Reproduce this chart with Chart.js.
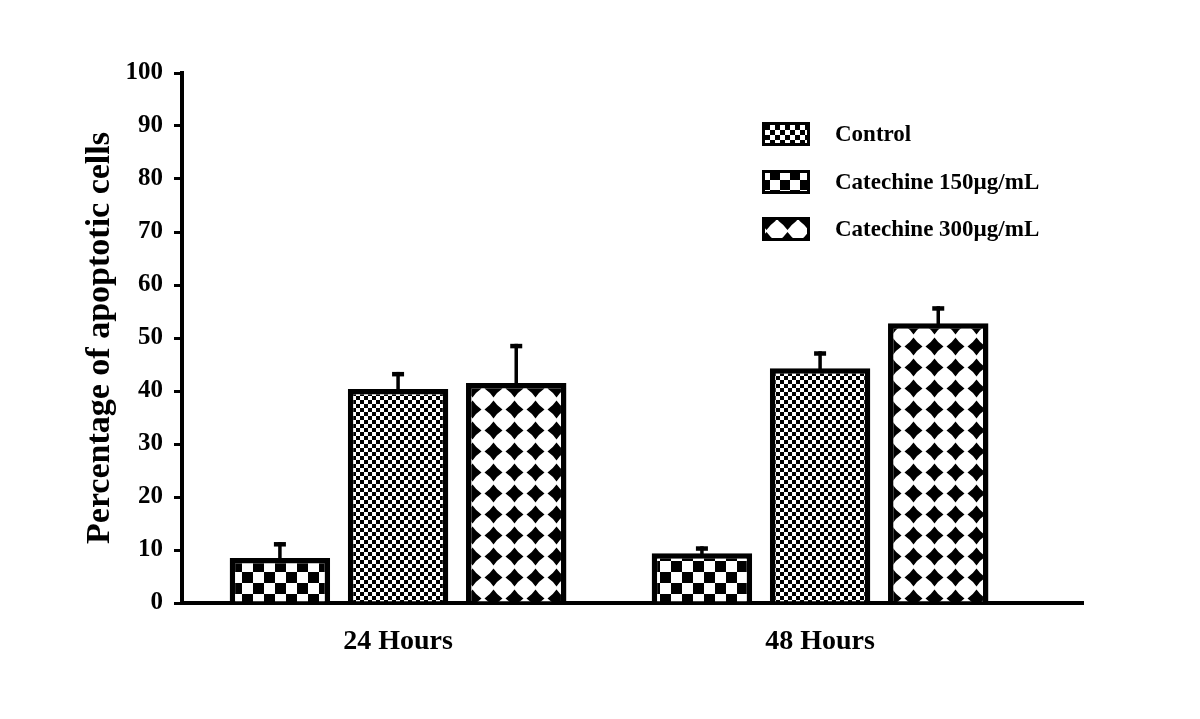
<!DOCTYPE html>
<html>
<head>
<meta charset="utf-8">
<script src="https://cdn.jsdelivr.net/npm/chart.js@4.4.1/dist/chart.umd.min.js"></script>
<style>
html,body{margin:0;padding:0;background:#fff;}
#wrap{width:1200px;height:719px;}
</style>
</head>
<body>
<div id="wrap"><canvas id="c" width="1200" height="719"></canvas></div>
<script>
// ---- data ----
const categories = ['24 Hours', '48 Hours'];
const seriesNames = ['Control', 'Catechine 150µg/mL', 'Catechine 300µg/mL'];
const controlMeans = [8.5, 9.4];
const catechine150Means = [40.4, 44.3];
const catechine300Means = [41.5, 52.8];
const controlErrors = [3.0, 1.3];
const catechine150Errors = [3.2, 3.2];
const catechine300Errors = [7.4, 3.2];
const yAxisTicks = [0, 10, 20, 30, 40, 50, 60, 70, 80, 90, 100];
const yAxisTitle = 'Percentage of apoptotic cells';

// ---- patterns ----
const canvas = document.getElementById('c');
const ctx = canvas.getContext('2d');

function checkerPattern(cell) {
  const t = document.createElement('canvas');
  t.width = t.height = cell * 2;
  const g = t.getContext('2d');
  g.fillStyle = '#fff'; g.fillRect(0, 0, cell * 2, cell * 2);
  g.fillStyle = '#000';
  g.fillRect(0, 0, cell, cell);
  g.fillRect(cell, cell, cell, cell);
  return ctx.createPattern(t, 'repeat');
}
function diamondPattern(size, tip, ctrl) {
  const t = document.createElement('canvas');
  t.width = t.height = size;
  const g = t.getContext('2d');
  g.fillStyle = '#fff'; g.fillRect(0, 0, size, size);
  const c = size / 2;
  g.fillStyle = '#000';
  g.beginPath();
  g.moveTo(c, c - tip);
  g.quadraticCurveTo(c + ctrl, c - ctrl, c + tip, c);
  g.quadraticCurveTo(c + ctrl, c + ctrl, c, c + tip);
  g.quadraticCurveTo(c - ctrl, c + ctrl, c - tip, c);
  g.quadraticCurveTo(c - ctrl, c - ctrl, c, c - tip);
  g.closePath();
  g.fill();
  return ctx.createPattern(t, 'repeat');
}
const barPatterns = [checkerPattern(11), checkerPattern(4), diamondPattern(21, 9, 3.6)];
const legendPatterns = [checkerPattern(5), checkerPattern(10), diamondPattern(21, 9.5, 4)];

const FONT = 'Liberation Serif';

const errorBarPlugin = {
  id: 'errorBars',
  afterDatasetsDraw(chart) {
    const yScale = chart.scales.y;
    const g = chart.ctx;
    chart.data.datasets.forEach((ds, di) => {
      const meta = chart.getDatasetMeta(di);
      meta.data.forEach((bar, i) => {
        const v = ds.data[i].y;
        const e = ds.errors[i];
        const top = yScale.getPixelForValue(v + e);
        g.save();
        g.fillStyle = '#000';
        g.fillRect(bar.x - 1.75, top, 3.5, bar.y - top + 3);
        g.fillRect(bar.x - 6, top, 12, 4.5);
        g.restore();
      });
    });
  }
};

const legendPlugin = {
  id: 'customLegend',
  afterDraw(chart) {
    const g = chart.ctx;
    const rows = [134, 182, 229];
    chart.data.datasets.forEach((ds, i) => {
      const cy = rows[i];
      g.save();
      g.fillStyle = legendPatterns[i];
      g.fillRect(762, cy - 12, 48, 24);
      g.strokeStyle = '#000';
      g.lineWidth = 3;
      g.strokeRect(763.5, cy - 10.5, 45, 21);
      g.fillStyle = '#000';
      g.font = 'bold 23px "' + FONT + '"';
      g.textBaseline = 'middle';
      g.textAlign = 'left';
      g.fillText(ds.label, 835, cy + 1);
      g.restore();
    });
  }
};

const meansBySeries = [controlMeans, catechine150Means, catechine300Means];
const errorsBySeries = [controlErrors, catechine150Errors, catechine300Errors];

new Chart(ctx, {
  type: 'bar',
  data: {
    datasets: seriesNames.map((name, s) => ({
      label: name,
      data: meansBySeries[s].map((v, i) => ({ x: i, y: v })),
      errors: errorsBySeries[s],
      backgroundColor: barPatterns[s],
      borderColor: '#000',
      borderWidth: 5.5,
      borderSkipped: 'start',
      categoryPercentage: 0.84,
      barPercentage: 0.85
    }))
  },
  options: {
    responsive: false,
    animation: false,
    layout: { padding: { top: 73, right: 117, bottom: 0, left: 0 } },
    plugins: { legend: { display: false }, tooltip: { enabled: false } },
    scales: {
      x: {
        type: 'linear',
        offset: false,
        bounds: 'data',
        min: -0.512,
        max: 1.623,
        z: 1,
        afterBuildTicks: s => { s.ticks = categories.map((_, i) => ({ value: i })); },
        afterFit: s => { s.height = 116; },
        ticks: {
          callback: v => categories[v] ?? '',
          font: { family: FONT, weight: 'bold', size: 28 },
          color: '#000',
          padding: 22,
          maxRotation: 0,
          autoSkip: false
        },
        grid: { display: false, drawTicks: false, offset: false },
        border: { display: true, color: '#000', width: 4 }
      },
      y: {
        min: 0,
        max: 100,
        z: 1,
        afterBuildTicks: s => { s.ticks = yAxisTicks.map(v => ({ value: v })); },
        afterFit: s => { s.width = 182; },
        ticks: {
          font: { family: FONT, weight: 'bold', size: 25 },
          color: '#000',
          padding: 11
        },
        grid: { drawOnChartArea: false, drawTicks: true, tickLength: 8, tickWidth: 3, tickColor: '#000', lineWidth: 3, color: '#000' },
        border: { display: true, color: '#000', width: 4 },
        title: {
          display: true,
          text: yAxisTitle,
          font: { family: FONT, weight: 'bold', size: 34 },
          color: '#000',
          padding: { top: 80, bottom: 0 }
        }
      }
    }
  },
  plugins: [errorBarPlugin, legendPlugin]
});
</script>
</body>
</html>
